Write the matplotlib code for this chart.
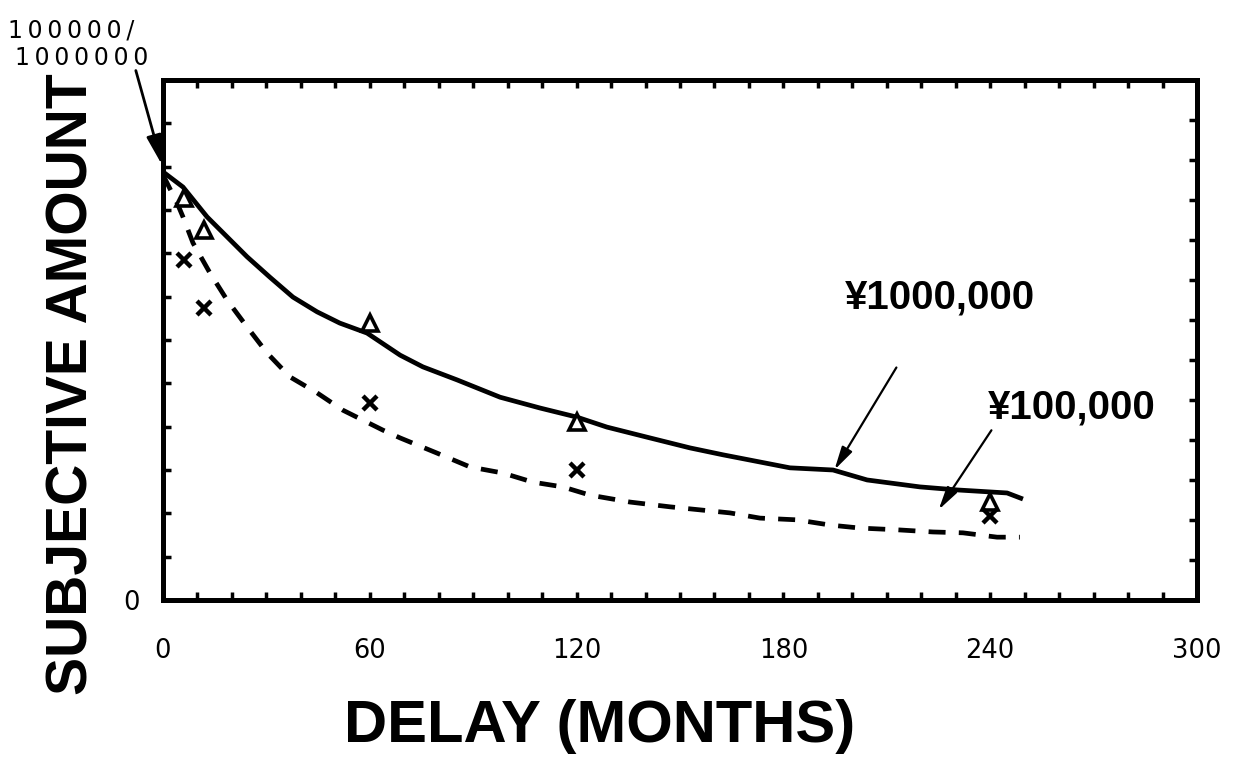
import matplotlib
matplotlib.use("Agg")
import matplotlib.pyplot as plt
from matplotlib.ticker import MultipleLocator, FixedLocator

# data (delay in months, subjective amount in arbitrary units; 10 = face value)
months_pts = [6, 12, 60, 120, 240]
tri_1000000 = [9.28, 8.54, 6.39, 4.11, 2.26]
x_100000 = [7.85, 6.74, 4.55, 3.00, 1.94]

solid_x = [0, 5.8, 12.8, 18.6, 24.4, 31.0, 37.7, 44.7, 51.3, 59.2, 68.8, 75.4,
           85.3, 97.8, 109.4, 120.1, 128.8, 141.3, 152.9, 162.5, 181.9, 194.4,
           204.3, 219.6, 230.4, 244.9, 249.5]
solid_y = [9.88, 9.53, 8.84, 8.38, 7.92, 7.45, 6.99, 6.65, 6.39, 6.16, 5.65, 5.38,
           5.08, 4.68, 4.43, 4.22, 3.99, 3.74, 3.51, 3.35, 3.05, 3.00,
           2.77, 2.61, 2.54, 2.47, 2.33]

dash_x = [0, 4.1, 5.8, 8.7, 13.6, 18.6, 24.4, 30.2, 36.8, 44.7, 52.2, 63.8, 68.8,
          79.5, 89.1, 98.6, 107.3, 116.0, 123.9, 135.5, 147.1, 164.5, 173.2,
          183.9, 193.5, 202.2, 213.0, 223.4, 232.1, 242.0, 248.6]
dash_y = [9.81, 9.16, 8.84, 8.24, 7.55, 6.92, 6.30, 5.70, 5.15, 4.78, 4.38, 3.92, 3.74,
          3.39, 3.07, 2.93, 2.72, 2.61, 2.42, 2.26, 2.15, 2.01, 1.89,
          1.85, 1.73, 1.66, 1.62, 1.57, 1.55, 1.45, 1.45]

xticks = [0, 60, 120, 180, 240, 300]

bold = ["Liberation Sans", "DejaVu Sans"]
plain = ["DejaVu Sans"]
THIN = "\u2009"


def spread(s):
    # typewriter-like letter spacing
    return THIN.join(s)


fig = plt.figure(figsize=(12.34, 7.59), dpi=100)
ax = fig.add_axes([163 / 1234, 159 / 759, 1034 / 1234, 520 / 759])

ax.plot(solid_x, solid_y, color="black", lw=3.4, solid_capstyle="butt")
ax.plot(dash_x, dash_y, color="black", lw=3.4, dashes=(3.6, 2.8))
ax.plot(months_pts, tri_1000000, ls="none", marker="^", ms=11,
        mfc="white", mec="black", mew=2.6)
ax.plot(months_pts, x_100000, ls="none", marker="x", ms=10,
        color="black", mew=3.2)

ax.set_xlim(0, 300)
ax.set_ylim(0, 12)

for s in ax.spines.values():
    s.set_linewidth(3.6)

ax.xaxis.set_major_locator(FixedLocator(xticks))
ax.xaxis.set_minor_locator(MultipleLocator(10))
ax.set_xticklabels([str(v) for v in xticks], family=plain, fontsize=18.5)
ax.tick_params(axis="x", which="both", direction="in", top=True, length=6,
               width=2.5, pad=27)

ax.yaxis.set_major_locator(FixedLocator([0]))
ax.yaxis.set_minor_locator(MultipleLocator(1))
ax.set_yticklabels(["0"], family=plain, fontsize=18.5)
ax.tick_params(axis="y", which="both", direction="in", length=6, width=2.5, pad=17)
ax.tick_params(axis="y", which="major", length=0)

# right-hand scale has its own tick spacing
ax2 = ax.twinx()
ax2.set_ylim(0, 13)
ax2.yaxis.set_major_locator(MultipleLocator(1))
ax2.tick_params(axis="y", direction="in", length=6, width=2.5, labelright=False)
for s in ax2.spines.values():
    s.set_visible(False)

fig.text(600 / 1234, 1 - 727 / 759, "DELAY (MONTHS)", family=bold, fontsize=43,
         fontweight="bold", ha="center", va="center")
fig.text(73 / 1234, 1 - 384 / 759, "SUBJECTIVE AMOUNT", family=bold, fontsize=41,
         fontweight="bold", ha="center", va="center", rotation=90)

ax.text(225.4, 6.99, "¥1000,000", family=bold, fontsize=29, fontweight="bold",
        ha="center", va="center")
ax.text(263.7, 4.45, "¥100,000", family=bold, fontsize=29, fontweight="bold",
        ha="center", va="center", clip_on=False)

head = dict(arrowstyle="-|>,head_length=1.4,head_width=0.35", color="black", lw=1.6)
ax.annotate("", xy=(194.4, 2.95), xytext=(213.2, 5.42), arrowprops=head)
ax.annotate("", xy=(224.6, 2.03), xytext=(240.8, 3.97), arrowprops=head)
ax.annotate("", xy=(0, 9.97), xytext=(-8.1, 12.28), annotation_clip=False,
            arrowprops=dict(arrowstyle="-|>,head_length=1.8,head_width=0.45",
                            color="black", lw=2))

fig.text(8 / 1234, 1 - 31 / 759, spread("100000/"), family=plain, fontsize=17,
         ha="left", va="center")
fig.text(15 / 1234, 1 - 58 / 759, spread("1000000"), family=plain, fontsize=17,
         ha="left", va="center")

fig.savefig("out.png", dpi=100, facecolor="white")
